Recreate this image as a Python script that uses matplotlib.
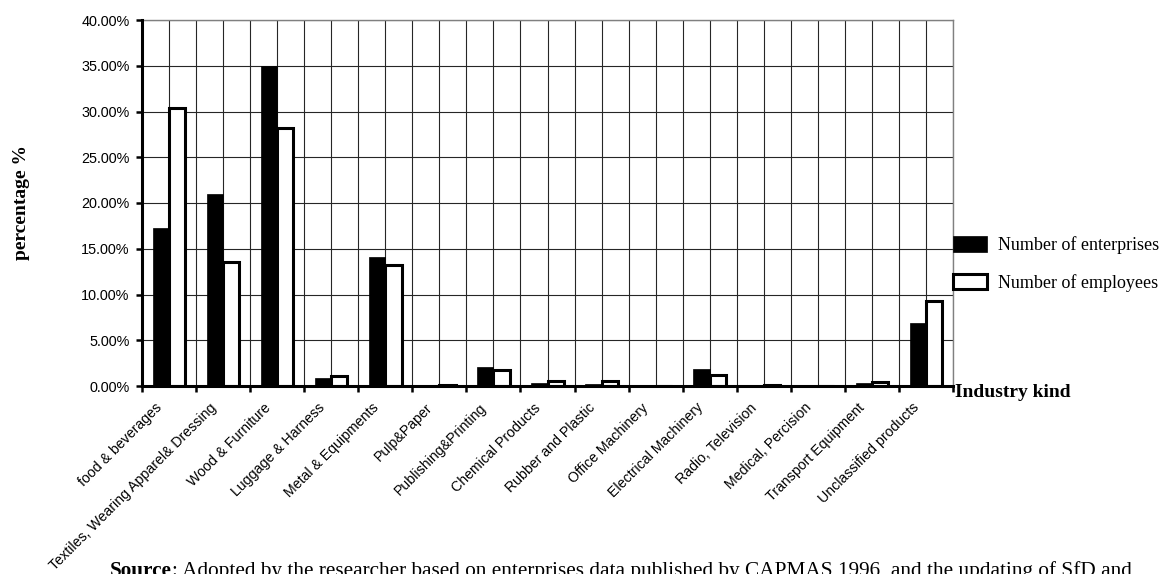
import matplotlib
matplotlib.use("Agg")
import matplotlib.pyplot as plt
import matplotlib.transforms as mtransforms
from matplotlib.ticker import FixedLocator, FuncFormatter
import numpy as np

# share of each industry kind (percent)
industries = ["food & beverages", "Textiles, Wearing Apparel& Dressing",
              "Wood & Furniture", "Luggage & Harness", "Metal & Equipments",
              "Pulp&Paper", "Publishing&Printing", "Chemical Products",
              "Rubber and Plastic", "Office Machinery", "Electrical Machinery",
              "Radio, Television", "Medical, Percision", "Transport Equipment",
              "Unclassified products"]
enterprises = [17.3, 21.0, 35.0, 0.9, 14.1, 0.05, 2.1, 0.3, 0.25, 0.0,
               1.9, 0.05, 0.03, 0.35, 6.9]
employees = [30.35, 13.6, 28.2, 1.1, 13.2, 0.15, 1.75, 0.6, 0.55, 0.0,
             1.25, 0.15, 0.05, 0.4, 9.3]
y_ticks = [0, 5, 10, 15, 20, 25, 30, 35, 40]

sans = "Liberation Sans"
serif = "Liberation Serif"

fig = plt.figure(figsize=(11.65, 5.74), dpi=100)
W, H = 1165, 574
ax = fig.add_axes([142 / W, 1 - 386 / H, (953 - 142) / W, (386 - 20) / H])

n = len(industries)
centers = np.arange(n) + 0.5
bw = 0.3
b1 = ax.bar(centers - bw / 2, enterprises, bw, color="black", edgecolor="black",
            linewidth=0.5, zorder=3, label="Number of enterprises")
b2 = ax.bar(centers + bw / 2, employees, bw, color="white", edgecolor="black",
            linewidth=2.2, zorder=3, label="Number of employees")

ax.set_xlim(0, n)
ax.set_ylim(0, 40)

# ticks at category borders, labels at category centres
ax.xaxis.set_major_locator(FixedLocator(np.arange(n + 1)))
ax.xaxis.set_minor_locator(FixedLocator(centers))
ax.set_xticklabels([], minor=False)
ax.set_xticklabels(industries, minor=True, rotation=45, ha="right",
                   rotation_mode="anchor", fontsize=10.2, family=sans)
ax.tick_params(axis="x", which="major", direction="out", length=4, width=1.8)
ax.tick_params(axis="x", which="minor", length=0, pad=12)

ax.set_yticks(y_ticks)
ax.yaxis.set_major_formatter(FuncFormatter(lambda v, p: f"{v:.2f}%"))
ax.tick_params(axis="y", direction="out", length=4, width=1.8, labelsize=10.4, pad=5)
for lab in ax.get_yticklabels():
    lab.set_family(sans)

# nudge the slanted category names a little left
shift = mtransforms.ScaledTranslation(-14 / 100, 2 / 100, fig.dpi_scale_trans)
for lab in ax.get_xticklabels(minor=True):
    lab.set_transform(lab.get_transform() + shift)

ax.grid(True, which="both", color="#262626", linewidth=0.8, zorder=0)
ax.set_axisbelow(True)

for side in ["left", "bottom"]:
    ax.spines[side].set_linewidth(2.2)
    ax.spines[side].set_color("black")
    ax.spines[side].set_zorder(4)
for side in ["top", "right"]:
    ax.spines[side].set_linewidth(1.0)
    ax.spines[side].set_color("#808080")

fig.text(22 / W, 1 - 203 / H, "percentage %", rotation=90, ha="center",
         va="center", fontsize=14, fontweight="bold", family=serif)
fig.text(955 / W, 1 - 384 / H, "Industry kind", ha="left", va="top",
         fontsize=14, fontweight="bold", family=serif)

fig.legend(handles=[b1, b2], loc="upper left",
           bbox_to_anchor=(953 / W, 1 - 236 / H), frameon=False,
           prop={"family": serif, "size": 13}, borderpad=0, borderaxespad=0,
           handlelength=1.9, handleheight=0.95, handletextpad=0.6,
           labelspacing=1.1)

src_y = 1 - 576 / H
src = fig.text(110 / W, src_y, "Source", ha="left", va="baseline",
               fontsize=15.3, fontweight="bold", family=serif)
rest = fig.text(0, src_y, ": Adopted by the researcher based on enterprises data "
                "published by CAPMAS 1996, and the updating of SfD and",
                fontsize=15.3, family=serif, ha="left", va="baseline")

# place the rest of the source line right after the bold word
fig.canvas.draw()
bb = src.get_window_extent()
rest.set_x(bb.x1 / W)

fig.savefig("out.png", dpi=100)
